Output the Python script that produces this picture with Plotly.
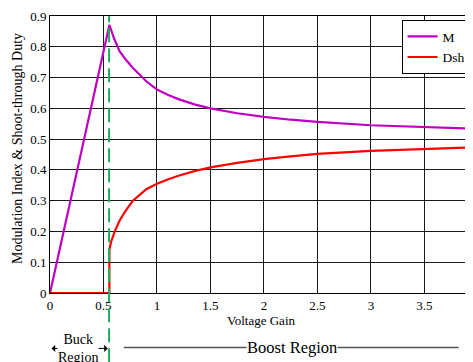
import plotly.graph_objects as go

# ---- data ----
gain_M = [0, 0.555, 0.6, 0.65, 0.7, 0.775, 0.9, 1.0, 1.1, 1.2, 1.35, 1.5, 1.75, 2.0, 2.25, 2.5, 3.0, 3.5, 3.935]
M_vals = [0, 0.871, 0.826, 0.786, 0.762, 0.731, 0.688, 0.661, 0.644, 0.630, 0.613, 0.600, 0.584, 0.572, 0.563, 0.556, 0.545, 0.539, 0.534]

gain_D = [0, 0.555, 0.555, 0.57, 0.605, 0.65, 0.7, 0.775, 0.9, 1.0, 1.1, 1.2, 1.35, 1.5, 1.75, 2.0, 2.25, 2.5, 3.0, 3.5, 3.935]
Dsh_vals = [0, 0, 0.140, 0.165, 0.200, 0.235, 0.264, 0.300, 0.337, 0.355, 0.369, 0.381, 0.396, 0.408, 0.423, 0.435, 0.444, 0.452, 0.462, 0.468, 0.473]

boundary_gain = 0.552

x_ticks = [0, 0.5, 1, 1.5, 2, 2.5, 3, 3.5]
x_tick_labels = ["0", "0.5", "1", "1.5", "2", "2.5", "3", "3.5"]
y_ticks = [0, 0.1, 0.2, 0.3, 0.4, 0.5, 0.6, 0.7, 0.8, 0.9]
y_tick_labels = ["0", "0.1", "0.2", "0.3", "0.4", "0.5", "0.6", "0.7", "0.8", "0.9"]

FONT = "Liberation Serif, Times New Roman, serif"

fig = go.Figure()
fig.add_trace(go.Scatter(x=gain_M, y=M_vals, mode="lines", name="M",
                         line=dict(color="#c000c0", width=2.2), cliponaxis=False))
fig.add_trace(go.Scatter(x=gain_D, y=Dsh_vals, mode="lines", name="Dsh",
                         line=dict(color="#ff0000", width=2.2), cliponaxis=False))

axis_common = dict(showline=True, mirror=True, linecolor="black", linewidth=1,
                   showgrid=True, gridcolor="#1a1a1a", gridwidth=1,
                   ticks="inside", ticklen=3, tickcolor="black",
                   ticklabeloverflow="allow",
                   zeroline=False, tickfont=dict(family=FONT, size=13, color="black"))

# the page body has an 8px margin, so the figure is sized/placed to compensate
fig.update_layout(
    width=465, height=354,
    margin=dict(l=42, r=1, t=6, b=69),
    paper_bgcolor="white", plot_bgcolor="white",
    font=dict(family=FONT, color="black"),
    xaxis=dict(range=[0, 3.935], tickvals=x_ticks, ticktext=x_tick_labels, **axis_common),
    yaxis=dict(range=[0, 0.9], tickvals=y_ticks, ticktext=y_tick_labels, **axis_common),
    legend=dict(x=0.835, y=0.985, xanchor="left", yanchor="top",
                bgcolor="white", bordercolor="black", borderwidth=1,
                font=dict(family=FONT, size=13.5, color="black"),
                itemwidth=30, tracegroupgap=0),
    showlegend=True,
)

# green dashed boundary line
fig.add_shape(type="line", xref="x", yref="paper", x0=boundary_gain, x1=boundary_gain,
              y0=-0.25, y1=1.0, line=dict(color="#1fae5a", width=2, dash="14px,6px"),
              layer="above")

# Boost region line
fig.add_shape(type="line", xref="x", yref="paper", x0=0.69, x1=3.82, y0=-0.197, y1=-0.197,
              line=dict(color="#555555", width=1.5))

annotations = [
    # Buck arrows
    dict(x=0.015, y=-0.2, xref="x", yref="paper", text="", showarrow=True,
         ax=26, ay=0, arrowhead=1, arrowsize=1.2, arrowwidth=1, arrowcolor="black"),
    dict(x=0.54, y=-0.2, xref="x", yref="paper", text="", showarrow=True,
         ax=-30, ay=0, arrowhead=1, arrowsize=1.2, arrowwidth=1, arrowcolor="black"),
    dict(x=0.26, y=-0.2, xref="x", yref="paper", text="Buck<br>Region", showarrow=False,
         font=dict(family=FONT, size=14, color="black"), bgcolor="white",
         xanchor="center", yanchor="middle", borderpad=0),
    dict(x=2.26, y=-0.197, xref="x", yref="paper", text="Boost Region", showarrow=False,
         font=dict(family=FONT, size=16.5, color="black"), bgcolor="white",
         xanchor="center", yanchor="middle", borderpad=0),
    dict(x=0.5, y=-0.098, xref="paper", yref="paper", text="Voltage Gain", showarrow=False,
         font=dict(family=FONT, size=13, color="black"), xanchor="center", yanchor="middle"),
    dict(x=-0.076, y=0.52, xref="paper", yref="paper", text="Modulation Index & Shoot-through Duty",
         showarrow=False, textangle=-90,
         font=dict(family=FONT, size=14, color="black"), xanchor="center", yanchor="middle"),
]
fig.update_layout(annotations=annotations)

fig.write_html("out.html")
